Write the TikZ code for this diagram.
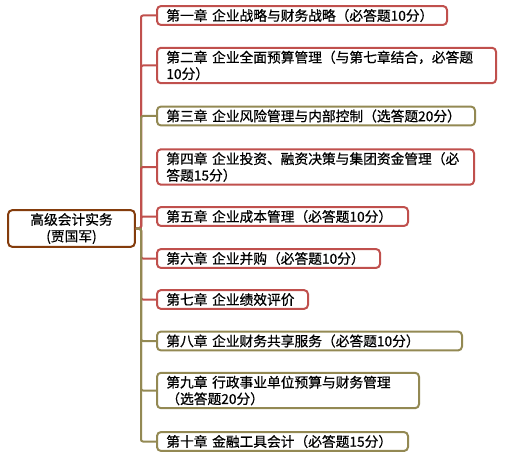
\documentclass[tikz,border=0pt]{standalone}
\usepackage{fontspec}
\setmainfont{Noto Sans CJK SC}[FakeBold=0.6]
\definecolor{cred}{HTML}{C0504D}
\definecolor{colive}{HTML}{938953}
\definecolor{cbrown}{HTML}{843C0C}
\tikzset{
  box/.style={draw, line width=1.5pt, rounded corners=3pt, fill=white,
    inner xsep=7pt, inner ysep=2.2pt, align=left, anchor=west,
    font=\fontsize{10.3}{12.4}\selectfont},
  rootbox/.style={draw=cbrown, line width=1.5pt, rounded corners=3pt, fill=white,
    minimum width=95pt, minimum height=27.5pt, align=center, inner sep=1pt,
    font=\fontsize{10.3}{12.4}\selectfont},
  redbox/.style={box, draw=cred},
  olivebox/.style={box, draw=colive},
  link/.style={line width=1.5pt, rounded corners=1.5pt},
}
\begin{document}
\begin{tikzpicture}[x=0.75pt,y=-0.75pt]
\useasboundingbox (0,0) rectangle (505,463);
\node[rootbox] (root) at (71.5,228.5) {高级会计实务\\(贾国军)};
\coordinate (tr) at (141,228.5);
\node[redbox, text width=203.5pt] (c1) at (156,15.5) {第一章 企业战略与财务战略（必答题10分）};
\node[redbox, text width=240.25pt] (c2) at (156,65.5) {第二章 企业全面预算管理（与第七章结合，必答题\\10分）};
\node[olivebox, text width=224.5pt] (c3) at (156,116) {第三章 企业风险管理与内部控制（选答题20分）};
\node[redbox, text width=223.75pt] (c4) at (156,167) {第四章 企业投资、融资决策与集团资金管理（必\\答题15分）};
\node[redbox, text width=174.25pt] (c5) at (156,216.5) {第五章 企业成本管理（必答题10分）};
\node[redbox, text width=153.25pt] (c6) at (156,258.5) {第六章 企业并购（必答题10分）};
\node[redbox, text width=99.25pt] (c7) at (156,299.5) {第七章 企业绩效评价};
\node[olivebox, text width=214.75pt] (c8) at (156,341) {第八章 企业财务共享服务（必答题10分）};
\node[olivebox, text width=182.5pt] (c9) at (156,390.5) {第九章 行政事业单位预算与财务管理\\（选答题20分）};
\node[olivebox, text width=174.25pt] (c10) at (156,441.5) {第十章 金融工具会计（必答题15分）};
\draw[link, cred] (root.east) -- (tr) |- (c1.west);
\draw[link, cred] (root.east) -- (tr) |- (c2.west);
\draw[link, colive] (root.east) -- (tr) |- (c3.west);
\draw[link, cred] (root.east) -- (tr) |- (c4.west);
\draw[link, cred] (root.east) -- (tr) |- (c5.west);
\draw[link, cred] (root.east) -- (tr) |- (c6.west);
\draw[link, cred] (root.east) -- (tr) |- (c7.west);
\draw[link, colive] (root.east) -- (tr) |- (c8.west);
\draw[link, colive] (root.east) -- (tr) |- (c9.west);
\draw[link, colive] (root.east) -- (tr) |- (c10.west);
\end{tikzpicture}
\end{document}
